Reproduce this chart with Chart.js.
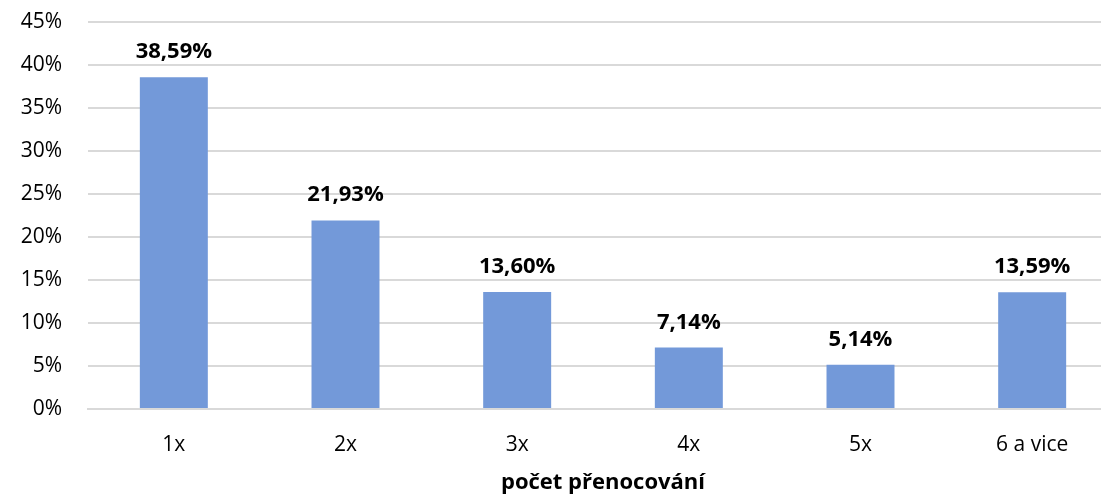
<!DOCTYPE html>
<html>
<head>
<meta charset="utf-8">
<script src="https://cdn.jsdelivr.net/npm/chart.js@4"></script>
<style>
  html, body { margin: 0; padding: 0; background: #fff; overflow: hidden; }
  #wrap { position: relative; width: 1130px; height: 494px; }
</style>
</head>
<body>
<div id="wrap"><canvas id="c"></canvas></div>
<script>
const categories = ["1x", "2x", "3x", "4x", "5x", "6 a vice"];
const values = [38.59, 21.93, 13.60, 7.14, 5.14, 13.59];
const valueLabels = ["38,59%", "21,93%", "13,60%", "7,14%", "5,14%", "13,59%"];
const axisTitle = "počet přenocování";
const yMax = 45;
const yStep = 5;

const FONT = "'Open Sans', sans-serif";

const labelPlugin = {
  id: 'valueLabels',
  afterDatasetsDraw(chart) {
    const ctx = chart.ctx;
    const meta = chart.getDatasetMeta(0);
    ctx.save();
    ctx.font = "bold 22px " + FONT;
    ctx.fillStyle = "#000";
    ctx.textAlign = "center";
    ctx.textBaseline = "alphabetic";
    meta.data.forEach((bar, i) => {
      ctx.fillText(valueLabels[i], bar.x, bar.y - 19);
    });
    ctx.restore();
  },
  afterDraw(chart) {
    const ctx = chart.ctx;
    const a = chart.chartArea;
    ctx.save();
    ctx.font = "bold 22px " + FONT;
    ctx.fillStyle = "#000";
    ctx.textAlign = "center";
    ctx.textBaseline = "alphabetic";
    ctx.fillText(axisTitle, (a.left + a.right) / 2, chart.height - 5);
    ctx.restore();
  }
};

new Chart(document.getElementById('c'), {
  type: 'bar',
  data: {
    labels: categories,
    datasets: [{
      data: values,
      backgroundColor: '#7399D9',
      borderWidth: 0,
      barPercentage: 0.396,
      categoryPercentage: 1.0
    }]
  },
  options: {
    responsive: true,
    maintainAspectRatio: false,
    animation: false,
    layout: { padding: { left: 0, right: 12, top: 22, bottom: 0 } },
    plugins: { legend: { display: false }, tooltip: { enabled: false } },
    scales: {
      x: {
        grid: { display: false, drawTicks: false },
        border: { display: true, color: '#D9D9D9', width: 2 },
        ticks: { color: '#000', font: { family: FONT, size: 21 }, padding: 23 },
        afterFit(scale) { scale.height = 85; }
      },
      y: {
        min: 0, max: yMax,
        grid: { color: '#D9D9D9', lineWidth: 2, drawTicks: true, tickLength: 26, tickColor: 'rgba(0,0,0,0)' },
        border: { display: false },
        ticks: {
          stepSize: yStep,
          color: '#000',
          font: { family: FONT, size: 21 },
          padding: 0,
          callback: v => v + '%'
        },
        afterFit(scale) { scale.width = 88; }
      }
    }
  },
  plugins: [labelPlugin]
});
</script>
</body>
</html>
